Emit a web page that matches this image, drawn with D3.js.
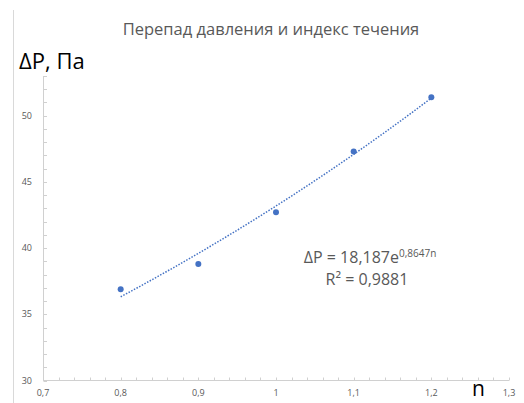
<!DOCTYPE html>
<html>
<head>
<meta charset="utf-8">
<script src="https://cdn.jsdelivr.net/npm/d3@7"></script>
<style>
  body { margin: 0; background: #fff; }
  svg { display: block; }
</style>
</head>
<body>
<div id="chart"></div>
<script>
// values
var nValues = [0.8, 0.9, 1.0, 1.1, 1.2];
var dpValues = [36.9, 38.8, 42.7, 47.3, 51.4];
var xTicks = [0.7, 0.8, 0.9, 1.0, 1.1, 1.2, 1.3];
var yTicks = [30, 35, 40, 45, 50];
// trendline coefficients as printed on the chart
var trendA = 18.187;
var trendB = 0.8647;

var width = 524, height = 403;
var fmt = function(d) { return String(d).replace('.', ','); };

var svg = d3.select('#chart').append('svg')
    .attr('width', width)
    .attr('height', height);

var x = d3.scaleLinear().domain([0.7, 1.3]).range([43, 509]);
var y = d3.scaleLinear().domain([30, 53]).range([380.5, 76]);

// thin border on the left
svg.append('line')
    .attr('x1', 13.5).attr('x2', 13.5)
    .attr('y1', 10).attr('y2', 403)
    .style('stroke', '#d9d9d9');

svg.append('text')
    .attr('x', 271).attr('y', 35)
    .style('text-anchor', 'middle')
    .style('font', '16.5px "Open Sans", sans-serif')
    .style('fill', '#595959')
    .text('Перепад давления и индекс течения');

// axes
var xMinor = d3.range(0.7, 1.3001, 0.02);
var yMinor = d3.range(30, 53.01, 1);

var gx = svg.append('g');
gx.append('line')
    .attr('x1', x(0.7)).attr('x2', x(1.3))
    .attr('y1', y(30)).attr('y2', y(30))
    .style('stroke', '#d0d0d0');
gx.selectAll('.mt').data(xMinor).enter().append('line')
    .attr('x1', d => Math.round(x(d)) + 0.5).attr('x2', d => Math.round(x(d)) + 0.5)
    .attr('y1', y(30)).attr('y2', y(30) - 3)
    .style('stroke', '#d0d0d0');
gx.selectAll('text').data(xTicks).enter().append('text')
    .attr('x', d => x(d)).attr('y', 396)
    .style('text-anchor', 'middle')
    .style('font', '9px "Open Sans", sans-serif')
    .style('fill', '#595959')
    .text(fmt);

var gy = svg.append('g');
gy.append('line')
    .attr('x1', 43.5).attr('x2', 43.5)
    .attr('y1', y(53)).attr('y2', y(30))
    .style('stroke', '#d0d0d0');
gy.selectAll('.mt').data(yMinor).enter().append('line')
    .attr('x1', 43.5).attr('x2', 47)
    .attr('y1', d => Math.round(y(d)) + 0.5).attr('y2', d => Math.round(y(d)) + 0.5)
    .style('stroke', '#d0d0d0');
gy.selectAll('text').data(yTicks).enter().append('text')
    .attr('x', 32).attr('y', d => y(d) + 3)
    .style('text-anchor', 'end')
    .style('font', '9px "Open Sans", sans-serif')
    .style('fill', '#595959')
    .text(d => d);

// axis titles
svg.append('text')
    .attr('x', 19).attr('y', 69)
    .style('font', '22px "Open Sans", sans-serif')
    .style('fill', '#000')
    .text('ΔP, Па');
svg.append('text')
    .attr('x', 472).attr('y', 396)
    .style('font', '21px "Open Sans", sans-serif')
    .style('fill', '#000')
    .text('n');

// exponential trendline
var trendN = d3.range(nValues[0], nValues[nValues.length - 1] + 1e-9, 0.01);
var line = d3.line()
    .x(d => x(d))
    .y(d => y(trendA * Math.exp(trendB * d)));
svg.append('path')
    .datum(trendN)
    .attr('d', line)
    .style('fill', 'none')
    .style('stroke', '#4472c4')
    .style('stroke-width', 1.5)
    .style('stroke-dasharray', '1.5,1.5');

svg.selectAll('circle').data(nValues).enter().append('circle')
    .attr('cx', d => x(d))
    .attr('cy', (d, i) => y(dpValues[i]))
    .attr('r', 3)
    .style('fill', '#4472c4');

// equation label
var eq = svg.append('text')
    .attr('x', 370).attr('y', 263)
    .style('text-anchor', 'middle')
    .style('font', '16px "Open Sans", sans-serif')
    .style('fill', '#595959');
eq.append('tspan').text('ΔP = 18,187e');
eq.append('tspan').attr('dy', -6).style('font-size', '10px').text('0,8647n');
var r2 = svg.append('text')
    .attr('x', 367).attr('y', 285)
    .style('text-anchor', 'middle')
    .style('font', '16px "Open Sans", sans-serif')
    .style('fill', '#595959');
r2.append('tspan').text('R² = 0,9881');
</script>
</body>
</html>
